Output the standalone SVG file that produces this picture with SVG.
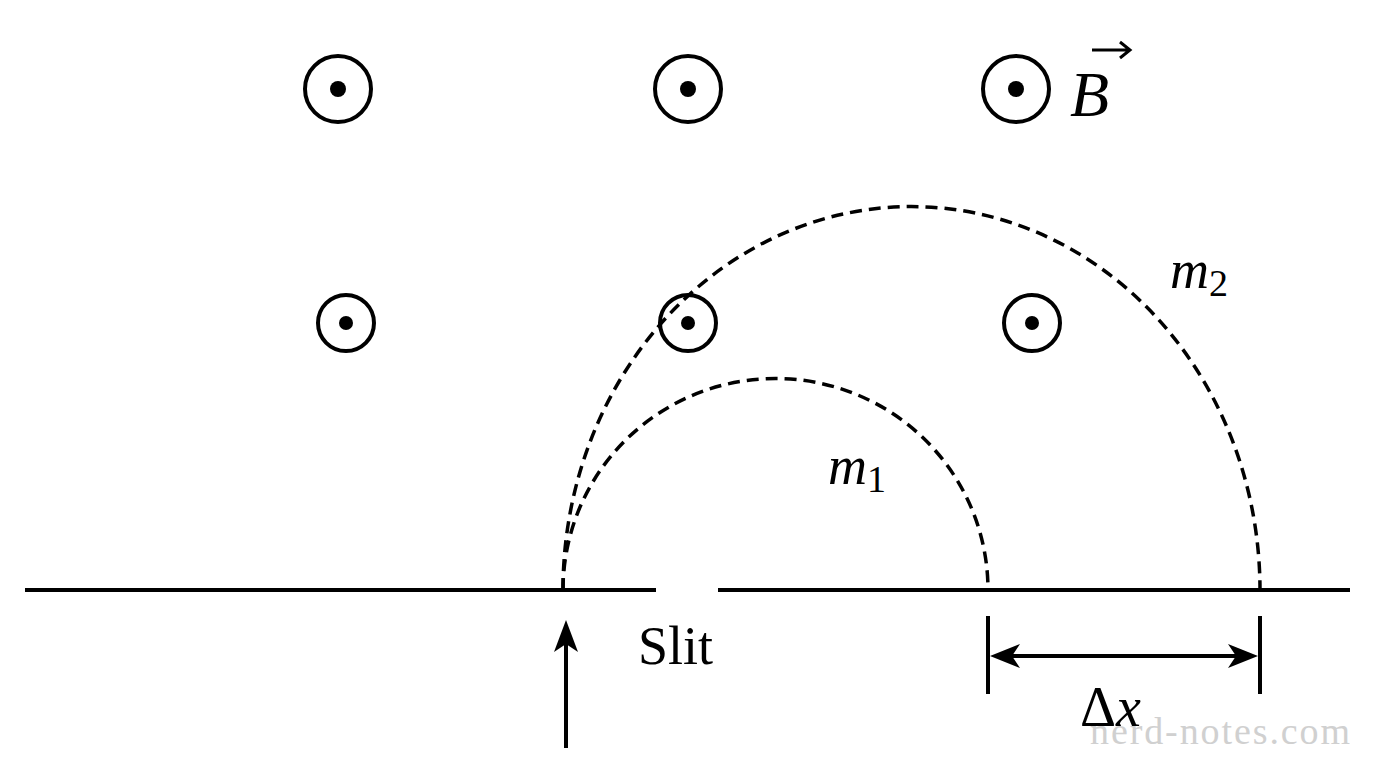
<svg xmlns="http://www.w3.org/2000/svg" width="1376" height="768" viewBox="0 0 1376 768">
<style>
.fc{fill:none;stroke:#000;stroke-width:4}
.dot{fill:#000}
.ln{stroke:#000;stroke-width:4;fill:none}
.ds{stroke:#000;stroke-width:3.5;fill:none;stroke-dasharray:12 7}
.t{font-family:"Liberation Serif",serif;fill:#000}
</style>
<rect width="1376" height="768" fill="#fff"/>
<g id="field">
<g id="b1"><circle class="fc" cx="338" cy="89" r="33"/><circle class="dot" cx="338" cy="89" r="8"/></g>
<g id="b2"><circle class="fc" cx="688" cy="89" r="33"/><circle class="dot" cx="688" cy="89" r="8"/></g>
<g id="b3"><circle class="fc" cx="1016" cy="89" r="33"/><circle class="dot" cx="1016" cy="89" r="8"/></g>
<g id="b4"><circle class="fc" cx="346" cy="323" r="28"/><circle class="dot" cx="346" cy="323" r="7"/></g>
<g id="b5"><circle class="fc" cx="688" cy="323" r="28"/><circle class="dot" cx="688" cy="323" r="7"/></g>
<g id="b6"><circle class="fc" cx="1032" cy="323" r="28"/><circle class="dot" cx="1032" cy="323" r="7"/></g>
</g>
<g id="plate">
<line class="ln" x1="25" y1="590" x2="656" y2="590"/>
<line class="ln" x1="718" y1="590" x2="1350" y2="590"/>
</g>
<g id="connectors">
<path class="ds" d="M563 590 A212 211 0 0 1 988 590"/>
<path class="ds" d="M563 590 A348 383 0 0 1 1260 590"/>
<line class="ln" x1="566" y1="748" x2="566" y2="640"/>
<path d="M566 620 L554 652 L566 644 L578 652 Z" fill="#000"/>
<line class="ln" x1="988" y1="616" x2="988" y2="694" stroke-width="3"/>
<line class="ln" x1="1260" y1="616" x2="1260" y2="694" stroke-width="3"/>
<line class="ln" x1="1000" y1="656" x2="1248" y2="656" stroke-width="3"/>
<path d="M990 656 L1020 644 L1012 656 L1020 668 Z" fill="#000"/>
<path d="M1258 656 L1228 644 L1236 656 L1228 668 Z" fill="#000"/>
</g>
<g id="labels">
<text class="t" x="638" y="664" font-size="54">Slit</text>
<text class="t" x="828" y="484" font-size="54" font-style="italic">m<tspan font-size="38" font-style="normal" dy="8">1</tspan></text>
<text class="t" x="1170" y="288" font-size="54" font-style="italic">m<tspan font-size="38" font-style="normal" dy="8">2</tspan></text>
<text class="t" x="1070" y="116" font-size="64" font-style="italic">B</text>
<path d="M1092 50 L1128 50 M1120 42 L1130 50 L1120 58" stroke="#000" stroke-width="3" fill="none"/>
<text class="t" x="1080" y="726" font-size="56">Δ<tspan font-style="italic">x</tspan></text>
<text x="1090" y="744" font-size="38" font-family="Liberation Serif,serif" fill="#c8c8c8" opacity="0.85" textLength="260">nerd-notes.com</text>
</g>
</svg>
